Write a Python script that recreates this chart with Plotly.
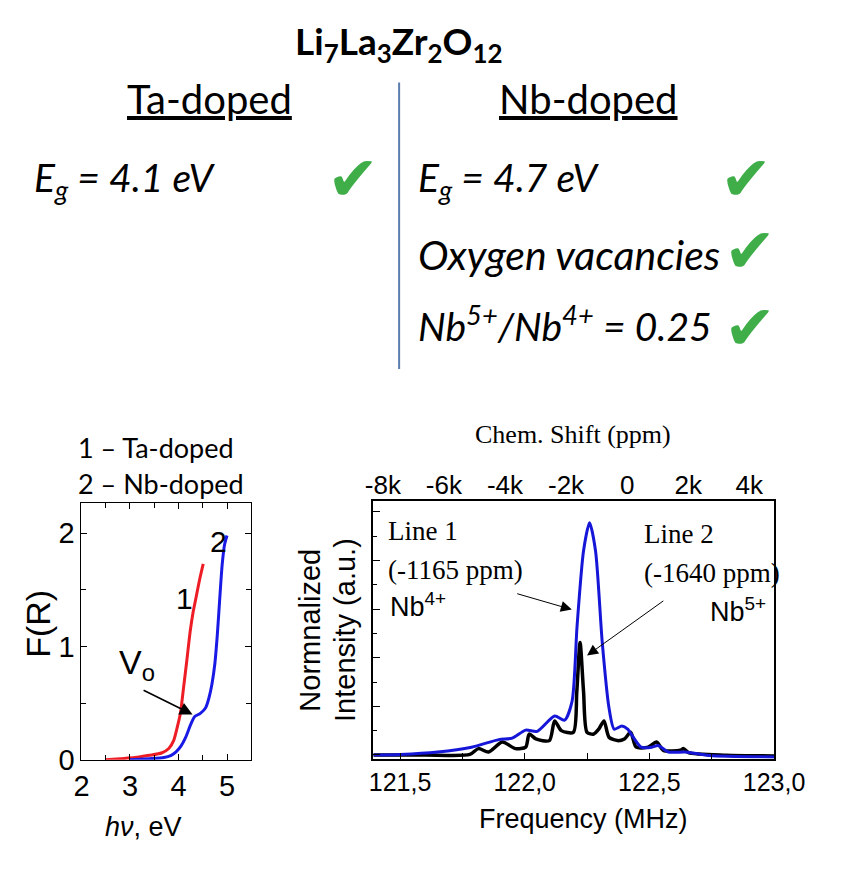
import plotly.graph_objects as go

# ---------------- data ----------------
# Diffuse reflectance (Kubelka-Munk) curves
ta_hv = [2.5, 2.8, 3.1, 3.4, 3.65, 3.8, 3.9, 3.97, 4.04, 4.1, 4.17, 4.24, 4.3, 4.37, 4.44, 4.51]
ta_F = [0.00, 0.01, 0.02, 0.04, 0.06, 0.10, 0.17, 0.28, 0.41, 0.62, 0.87, 1.13, 1.30, 1.45, 1.60, 1.73]
nb_hv = [3.0, 3.4, 3.7, 3.85, 3.95, 4.05, 4.15, 4.25, 4.33, 4.45, 4.56, 4.63, 4.69, 4.75, 4.8, 4.85, 4.9, 4.95, 5.0]
nb_F = [0.00, 0.01, 0.02, 0.04, 0.07, 0.12, 0.20, 0.31, 0.38, 0.41, 0.46, 0.55, 0.67, 0.85, 1.10, 1.42, 1.72, 1.90, 1.98]

# NMR spectra
blue_freq = [121.393, 121.5, 121.651, 121.787, 121.896, 121.95, 122.004, 122.05, 122.12, 122.16, 122.19,
             122.21, 122.236, 122.26, 122.284, 122.311, 122.338, 122.359, 122.39, 122.413, 122.44,
             122.467, 122.51, 122.535, 122.576, 122.644, 122.74, 123.0]
blue_int = [0.0, 0.002, 0.012, 0.032, 0.063, 0.069, 0.102, 0.097, 0.160, 0.143, 0.221,
            0.53, 0.84, 0.955, 0.84, 0.463, 0.194, 0.106, 0.119, 0.106, 0.066,
            0.032, 0.032, 0.039, 0.012, 0.012, -0.002, -0.008]
black_freq = [121.393, 121.6, 121.78, 121.814, 121.855, 121.91, 121.963, 122.004, 122.018, 122.045, 122.099,
              122.12, 122.147, 122.195, 122.209, 122.222, 122.236, 122.25, 122.277, 122.297, 122.318,
              122.338, 122.372, 122.4, 122.425, 122.447, 122.495, 122.529, 122.556, 122.624, 122.637,
              122.657, 122.807, 123.0]
black_int = [0.0, 0.0, 0.002, 0.026, 0.012, 0.053, 0.026, 0.032, 0.086, 0.066, 0.059,
             0.14, 0.10, 0.093, 0.261, 0.463, 0.261, 0.093, 0.086, 0.106, 0.14,
             0.073, 0.059, 0.066, 0.093, 0.032, 0.032, 0.053, 0.019, 0.019, 0.026,
             0.010, -0.001, -0.004]

freq_ticks = [121.5, 122.0, 122.5, 123.0]
freq_ticktext = ["121,5", "122,0", "122,5", "123,0"]
ppm_ticks = [-8000, -6000, -4000, -2000, 0, 2000, 4000]
ppm_ticktext = ["-8k", "-6k", "-4k", "-2k", "0", "2k", "4k"]

W, H = 847, 873
def px(x):
    return x / W
def py(y):
    return 1 - y / H

fig = go.Figure()

# Left panel
fig.add_trace(go.Scatter(x=ta_hv, y=ta_F, mode="lines", line=dict(color="#ee1c24", width=3, shape="spline", smoothing=0.6),
                         xaxis="x", yaxis="y", showlegend=False))
fig.add_trace(go.Scatter(x=nb_hv, y=nb_F, mode="lines", line=dict(color="#1a1ae6", width=3, shape="spline", smoothing=0.6),
                         xaxis="x", yaxis="y", showlegend=False))
# Right panel
fig.add_trace(go.Scatter(x=black_freq, y=black_int, mode="lines",
                         line=dict(color="black", width=3.5, shape="spline", smoothing=0.7),
                         xaxis="x2", yaxis="y2", showlegend=False))
fig.add_trace(go.Scatter(x=blue_freq, y=blue_int, mode="lines",
                         line=dict(color="#1616d8", width=3, shape="spline", smoothing=0.7),
                         xaxis="x2", yaxis="y2", showlegend=False))
# invisible trace for the top (chem shift) axis
fig.add_trace(go.Scatter(x=[0], y=[0], mode="markers", marker=dict(opacity=0), hoverinfo="skip",
                         xaxis="x3", yaxis="y2", showlegend=False))

arial = "Liberation Sans, Arial"
times = "Liberation Serif, Times New Roman"
calibri = "Lato, Carlito, Calibri"

fig.update_layout(
    width=W, height=H, autosize=False,
    margin=dict(l=0, r=0, t=0, b=0),
    paper_bgcolor="white", plot_bgcolor="white",
    xaxis=dict(domain=[px(77), px(255)], range=[2, 5.5], tickvals=[2, 3, 4, 5],
               ticks="inside", ticklen=6, tickcolor="black", mirror="ticks",
               minor=dict(dtick=0.5, tick0=2, ticks="inside", ticklen=5, tickcolor="black"),
               showline=True, linecolor="black", linewidth=1, showgrid=False, zeroline=False,
               tickfont=dict(family=arial, size=29, color="black"), anchor="y"),
    yaxis=dict(domain=[py(774), py(512)], range=[0, 2.27], tickvals=[0, 1, 2],
               ticks="inside", ticklen=6, tickcolor="black", mirror="ticks",
               minor=dict(dtick=0.5, tick0=0, ticks="inside", ticklen=5, tickcolor="black"),
               showline=True, linecolor="black", linewidth=1, showgrid=False, zeroline=False,
               tickfont=dict(family=arial, size=29, color="black"), anchor="x"),
    xaxis2=dict(domain=[px(383), px(803)], range=[121.393, 123.0], tickvals=freq_ticks,
                ticktext=freq_ticktext, ticks="inside", ticklen=6, tickcolor="black",
                minor=dict(dtick=0.25, tick0=121.5, ticks="inside", ticklen=6, tickcolor="black"),
                showline=True, linecolor="black", linewidth=1.5, mirror=True, showgrid=False,
                zeroline=False, tickfont=dict(family=arial, size=25, color="black"), anchor="y2"),
    xaxis3=dict(overlaying="x2", side="top", anchor="y2", range=[-8311, 4811],
                tickvals=ppm_ticks, ticktext=ppm_ticktext, ticks="", showline=False,
                showgrid=False, zeroline=False, tickfont=dict(family=arial, size=26, color="black")),
    yaxis2=dict(domain=[py(773), py(510)], range=[-0.016, 1.046], dtick=0.2, tick0=0,
                showticklabels=False, ticks="inside", ticklen=7, tickcolor="black",
                minor=dict(dtick=0.1, tick0=0, ticks="inside", ticklen=4, tickcolor="black"),
                showline=True, linecolor="black", linewidth=1.5, mirror=True, showgrid=False,
                zeroline=False, anchor="x2"),
)

ann = []
def t(x, y, text, size, family=calibri, xanchor="center", yanchor="middle", color="black", angle=0, **kw):
    ann.append(dict(x=x, y=y, xref="paper", yref="paper", text=text, showarrow=False,
                    xanchor=xanchor, yanchor=yanchor, textangle=angle,
                    font=dict(family=family, size=size, color=color), **kw))

# Top part
t(px(409), py(44), "<b>Li<sub>7</sub>La<sub>3</sub>Zr<sub>2</sub>O<sub>12</sub></b>", 37)
t(px(211), py(101), "<u>Ta-doped</u>", 40)
t(px(608), py(101), "<u>Nb-doped</u>", 40)
t(px(25), py(183), "<i>E<sub>g</sub> = 4.1 eV</i>", 39, xanchor="left")
t(px(428), py(183), "<i>E<sub>g</sub> = 4.7 eV</i>", 39, xanchor="left")
t(px(428), py(259), "<i>Oxygen vacancies</i>", 41, xanchor="left")
t(px(428), py(330), "<i>Nb<sup>5+</sup>/Nb<sup>4+</sup> = 0.25</i>", 39, xanchor="left")
check = "#3fae49"
for cx, cy in [(362, 182), (774, 182), (778, 255), (778, 334)]:
    t(px(cx), py(cy), "✔", 62, family="DejaVu Sans", color=check)

# Left panel labels
t(px(71), py(456), "1 – Ta-doped", 27, xanchor="left")
t(px(71), py(493), "2 – Nb-doped", 27, xanchor="left")
t(px(32), py(636), "F(R)", 34, family=arial, angle=-90)
t(px(142), py(842), "<i>hν</i>, eV", 27, family=arial)

# Right panel labels
t(px(317), py(642), "Normnalized", 29, family=arial, angle=-90)
t(px(354), py(642), "Intensity (a.u.)", 29, family=arial, angle=-90)
t(px(603), py(834), "Frequency (MHz)", 27, family=arial)
t(px(592), py(443), "Chem. Shift (ppm)", 26, family=times)

def d(x, y, text, size, family, xref, yref, xanchor="left"):
    ann.append(dict(x=x, y=y, xref=xref, yref=yref, text=text, showarrow=False,
                    xanchor=xanchor, yanchor="middle", font=dict(family=family, size=size, color="black")))

d(4.12, 1.42, "1", 30, arial, "x", "y", "center")
d(4.82, 1.93, "2", 30, arial, "x", "y", "center")
d(3.14, 0.84, "V<sub>o</sub>", 34, arial, "x", "y", "center")
ann.append(dict(x=4.29, y=0.40, ax=3.25, ay=0.62, xref="x", yref="y", axref="x", ayref="y",
                text="", showarrow=True, arrowhead=2, arrowsize=1.6, arrowwidth=1.6, arrowcolor="black"))

d(121.442, 0.921, "Line 1", 27, times, "x2", "y2")
d(121.442, 0.76, "(-1165 ppm)", 27, times, "x2", "y2")
d(121.45, 0.618, "Nb<sup>4+</sup>", 27, arial, "x2", "y2")
d(122.472, 0.909, "Line 2", 27, times, "x2", "y2")
d(122.472, 0.747, "(-1640 ppm)", 27, times, "x2", "y2")
d(122.975, 0.598, "Nb<sup>5+</sup>", 27, arial, "x2", "y2", "right")
ann.append(dict(x=122.189, y=0.598, ax=121.964, ay=0.665, xref="x2", yref="y2", axref="x2", ayref="y2",
                text="", showarrow=True, arrowhead=2, arrowsize=2.2, arrowwidth=1, arrowcolor="black"))
ann.append(dict(x=122.25, y=0.409, ax=122.562, ay=0.638, xref="x2", yref="y2", axref="x2", ayref="y2",
                text="", showarrow=True, arrowhead=2, arrowsize=2.2, arrowwidth=1, arrowcolor="black"))

fig.update_layout(annotations=ann)
fig.add_shape(type="line", xref="paper", yref="paper", x0=px(410), x1=px(410), y0=py(84), y1=py(376),
              line=dict(color="#5a7fae", width=2))

fig.write_html("out.html", config={"displayModeBar": False},
               post_script="document.body.style.margin='0';document.body.style.overflow='hidden';")
